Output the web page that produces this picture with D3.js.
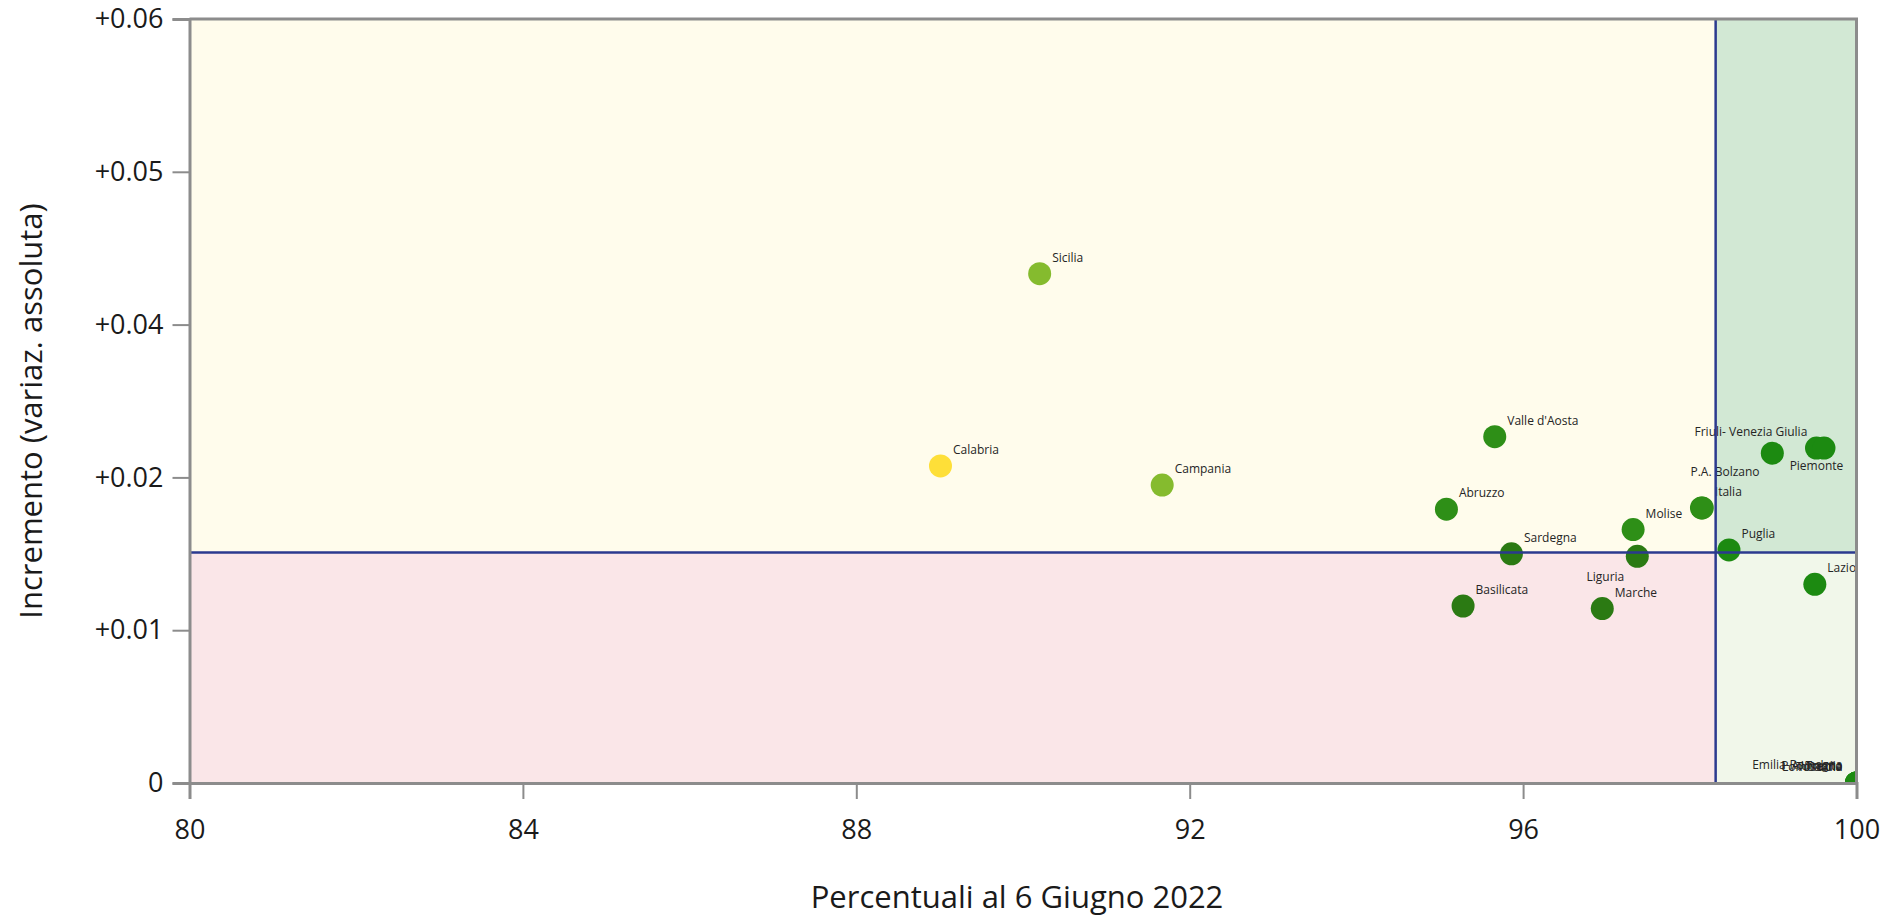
<!DOCTYPE html>
<html>
<head>
<meta charset="utf-8">
<script src="https://cdn.jsdelivr.net/npm/d3@7"></script>
<style>
  body { margin: 0; background: #fff; }
  svg { display: block; font-family: "Open Sans", "Noto Sans", sans-serif; }
  .tick text { fill: #1a1a1a; }
  .etichetta { font-size: 12px; fill: #252525; }
</style>
</head>
<body>
<svg id="chart" width="1885" height="916"></svg>
<script>
// dati
var regioni = ["Sicilia", "Calabria", "Campania", "Valle d'Aosta", "Abruzzo", "Sardegna", "Basilicata",
  "Liguria", "Marche", "Molise", "P.A. Bolzano", "Italia", "Friuli- Venezia Giulia", "Piemonte", "Veneto",
  "Puglia", "Lazio", "Lombardia", "P.A. Trento", "Toscana", "Umbria", "Emilia-Romagna"];
var percentuali = [90.20, 89.01, 91.67, 95.66, 95.08, 95.86, 95.28,
  97.37, 96.95, 97.32, 98.14, 98.15, 98.99, 99.52, 99.61,
  98.47, 99.50, 100, 100, 100, 100, 100];
var incrementi = [0.0400, 0.0249, 0.0234, 0.0272, 0.0215, 0.0180, 0.0139,
  0.0178, 0.0137, 0.0199, 0.0216, 0.0216, 0.0259, 0.0263, 0.0263,
  0.0183, 0.0156, 0, 0, 0, 0, 0];
var fasce = ["media", "bassa", "media", "alta", "alta", "scura", "scura",
  "scura", "scura", "alta", "alta", "alta", "top", "top", "top",
  "top", "top", "top", "top", "top", "top", "top"];

var xTicks = [80, 84, 88, 92, 96, 100];
var yTicks = [0, 0.012, 0.024, 0.036, 0.048, 0.06];
var sogliaX = 98.31;
var sogliaY = 0.0181;

var svg = d3.select("#chart");
var margin = {left: 189.5, top: 19, right: 28.5, bottom: 133};
var W = 1885 - margin.left - margin.right;
var H = 916 - margin.top - margin.bottom;

var x = d3.scaleLinear().domain([80, 100]).range([0, W]);
var y = d3.scaleLinear().domain([0, 0.06]).range([H, 0]);

var colore = d3.scaleOrdinal()
  .domain(["bassa", "media", "alta", "scura", "top"])
  .range(["#fedf38", "#85bb2e", "#2e8f17", "#2b7a13", "#1c8a11"]);

var g = svg.append("g").attr("transform", "translate(" + margin.left + "," + margin.top + ")");

svg.append("defs").append("clipPath").attr("id", "area")
  .append("rect").attr("width", W).attr("height", H);

// quadranti
var quadranti = [
  {x0: 80, x1: sogliaX, y0: sogliaY, y1: 0.06, c: "#fffcec"},
  {x0: 80, x1: sogliaX, y0: 0, y1: sogliaY, c: "#fae6e8"},
  {x0: sogliaX, x1: 100, y0: sogliaY, y1: 0.06, c: "#d2e8d4"},
  {x0: sogliaX, x1: 100, y0: 0, y1: sogliaY, c: "#f1f7ea"}
];
g.selectAll(".quad").data(quadranti).enter().append("rect")
  .attr("class", "quad")
  .attr("x", function(d) { return x(d.x0); })
  .attr("y", function(d) { return y(d.y1); })
  .attr("width", function(d) { return x(d.x1) - x(d.x0); })
  .attr("height", function(d) { return y(d.y0) - y(d.y1); })
  .attr("fill", function(d) { return d.c; });

var punti = regioni.map(function(r, i) {
  return {nome: r, px: percentuali[i], py: incrementi[i], fascia: fasce[i]};
});

var plot = g.append("g").attr("clip-path", "url(#area)");

plot.selectAll("circle").data(punti).enter().append("circle")
  .attr("cx", function(d) { return x(d.px); })
  .attr("cy", function(d) { return y(d.py); })
  .attr("r", 11.5)
  .attr("fill", function(d) { return colore(d.fascia); });

// posizione etichette (di default in alto a destra)
var posEtichetta = {
  "Liguria": {dx: -13, dy: 25, a: "end"},
  "P.A. Bolzano": {dx: -11, dy: -32, a: "start"},
  "Friuli- Venezia Giulia": {dx: 35, dy: -17, a: "end"},
  "Piemonte": {dx: 0, dy: 22, a: "middle"},
  "Veneto": null,
  "Lombardia": {dx: -14, dy: -12, a: "end"},
  "P.A. Trento": {dx: -14, dy: -13, a: "end"},
  "Toscana": {dx: -14, dy: -12, a: "end"},
  "Umbria": {dx: -14, dy: -13, a: "end"},
  "Emilia-Romagna": {dx: -14, dy: -14, a: "end"}
};
function pos(d) {
  if (d.nome in posEtichetta) return posEtichetta[d.nome];
  return {dx: 12.5, dy: -12, a: "start"};
}

plot.selectAll(".etichetta").data(punti.filter(function(d) { return pos(d) !== null; }))
  .enter().append("text")
  .attr("class", "etichetta")
  .attr("x", function(d) { return x(d.px) + pos(d).dx; })
  .attr("y", function(d) { return y(d.py) + pos(d).dy; })
  .attr("text-anchor", function(d) { return pos(d).a; })
  .text(function(d) { return d.nome; });

// linee di soglia
g.append("line")
  .attr("x1", 0).attr("x2", W)
  .attr("y1", y(sogliaY)).attr("y2", y(sogliaY))
  .attr("stroke", "#2b3a8f").attr("stroke-width", 2.5);
g.append("line")
  .attr("x1", x(sogliaX)).attr("x2", x(sogliaX))
  .attr("y1", 0).attr("y2", H)
  .attr("stroke", "#2b3a8f").attr("stroke-width", 2.5);

// cornice
g.append("path")
  .attr("d", "M0,0H" + W + "V" + H)
  .attr("fill", "none").attr("stroke", "#8c8c8c").attr("stroke-width", 3);

var xAxis = g.append("g").attr("transform", "translate(0," + H + ")")
  .call(d3.axisBottom(x).tickValues(xTicks).tickSize(16).tickPadding(21).tickFormat(d3.format("d")));
var yAxis = g.append("g")
  .call(d3.axisLeft(y).tickValues(yTicks).tickSize(17).tickPadding(9)
    .tickFormat(function(d) { return d === 0 ? "0" : "+" + d.toFixed(2); }));

[xAxis, yAxis].forEach(function(a) {
  a.selectAll("path").attr("stroke", "#8c8c8c").attr("stroke-width", 3);
  a.selectAll("line").attr("stroke", "#8c8c8c").attr("stroke-width", 2);
  a.selectAll("text").style("font-size", "27px").style("font-family", "Open Sans");
});

svg.append("text")
  .attr("x", margin.left + W / 2 - 6).attr("y", 908)
  .attr("text-anchor", "middle")
  .style("font-size", "31px").attr("fill", "#1a1a1a")
  .text("Percentuali al 6 Giugno 2022");

svg.append("text")
  .attr("transform", "translate(42,411) rotate(-90)")
  .attr("text-anchor", "middle")
  .style("font-size", "31px").attr("fill", "#1a1a1a")
  .text("Incremento (variaz. assoluta)");
</script>
</body>
</html>
